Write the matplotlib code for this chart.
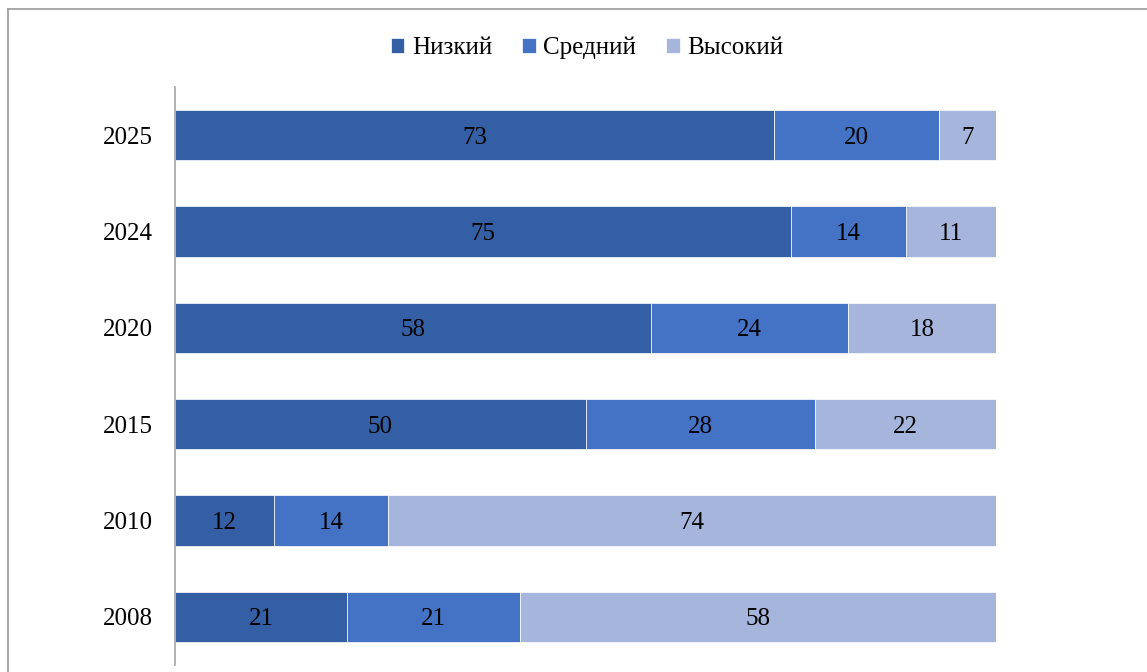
import matplotlib.pyplot as plt
from matplotlib.lines import Line2D

years = ["2008", "2010", "2015", "2020", "2024", "2025"]
low = [21, 12, 50, 58, 75, 73]
mid = [21, 14, 28, 24, 14, 20]
high = [58, 74, 22, 18, 11, 7]
series_names = ["Низкий", "Средний", "Высокий"]
colors = ["#355FA5", "#4472C4", "#A6B5DB"]

plt.rcParams['font.family'] = ['Liberation Serif', 'DejaVu Serif']

fig = plt.figure(figsize=(11.47, 6.72), dpi=100)
ax = fig.add_axes([175 / 1147, 7 / 672, 821 / 1147, 578 / 672])

# outer chart frame (only top and left edges are visible)
fig.add_artist(Line2D([8 / 1147, 1.0], [1 - 9 / 672, 1 - 9 / 672],
                      transform=fig.transFigure, color="#9a9a9a", lw=1.2))
fig.add_artist(Line2D([8 / 1147, 8 / 1147], [0, 1 - 9 / 672],
                      transform=fig.transFigure, color="#9a9a9a", lw=1.2))

y = range(len(years))
left = [0] * len(years)
for vals, name, c in zip([low, mid, high], series_names, colors):
    bars = ax.barh(y, vals, left=left, height=0.52, color=c, label=name,
                   edgecolor="white", linewidth=0.5)
    txts = ax.bar_label(bars, labels=[str(v) for v in vals], label_type="center",
                        fontsize=18, color="black")
    for t in txts:
        t.set_va("center_baseline")
    left = [a + b for a, b in zip(left, vals)]

ax.set_xlim(0, 100)
ax.set_ylim(-0.5, len(years) - 0.5)
ax.set_yticks(list(y))
ax.set_yticklabels(years, fontsize=18)
ax.tick_params(axis="y", length=0, pad=16)
ax.set_xticks([])
for s in ["top", "right", "bottom"]:
    ax.spines[s].set_visible(False)
ax.spines["left"].set_color("#a6a6a6")
ax.spines["left"].set_linewidth(1.2)

fig.legend(loc="center", bbox_to_anchor=(587 / 1147, 1 - 48 / 672), ncol=3,
           frameon=False, fontsize=18, handlelength=0.55, handleheight=0.55,
           handletextpad=0.3, columnspacing=1.2)

fig.savefig("out.png", dpi=100)
